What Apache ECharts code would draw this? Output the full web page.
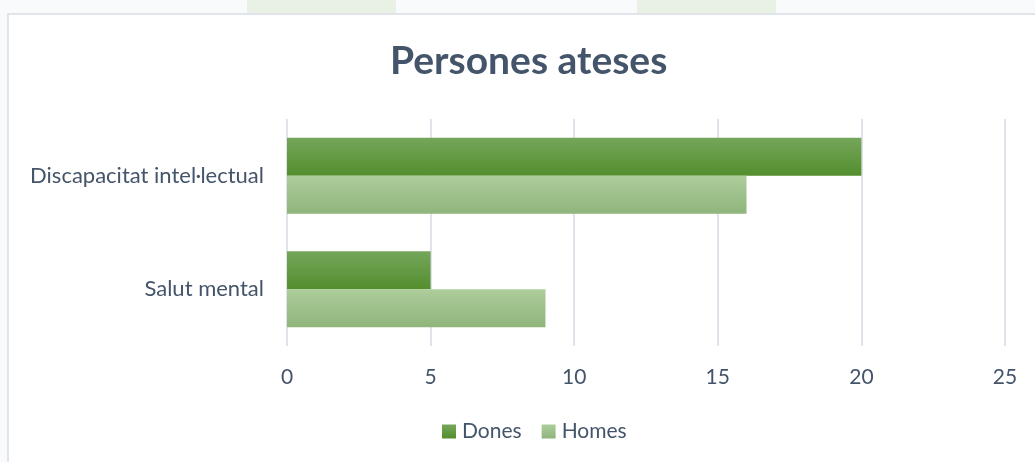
<!DOCTYPE html>
<html>
<head>
<meta charset="utf-8">
<script src="https://cdn.jsdelivr.net/npm/echarts@6/dist/echarts.min.js"></script>
<style>
  html, body { margin: 0; padding: 0; width: 1035px; height: 462px; overflow: hidden; background: #f9fafb; }
  #strip1 { position: absolute; left: 247px; top: 0; width: 149px; height: 13px; background: #e8f1e3; }
  #strip2 { position: absolute; left: 637px; top: 0; width: 139px; height: 13px; background: #e8f1e3; }
  #frame { position: absolute; left: 7px; top: 13px; width: 1040px; height: 460px; background: #ffffff; border-left: 2px solid #e1e5eb; border-top: 2px solid #e1e5eb; }
  #chart { position: absolute; left: 0; top: 0; width: 1035px; height: 462px; }
</style>
</head>
<body>
<div id="strip1"></div>
<div id="strip2"></div>
<div id="frame"></div>
<div id="chart"></div>
<script>
const titleText = 'Persones ateses';
const categories = ['Discapacitat intel·lectual', 'Salut mental'];
const seriesNames = ['Dones', 'Homes'];
const donesValues = [20, 5];
const homesValues = [16, 9];
const xTicks = [0, 5, 10, 15, 20, 25];

const textColor = '#44546a';
const font = 'Lato';

function grad(top, bottom) {
  return new echarts.graphic.LinearGradient(0, 0, 0, 1, [
    { offset: 0, color: top },
    { offset: 1, color: bottom }
  ]);
}

const chart = echarts.init(document.getElementById('chart'), null, { renderer: 'canvas' });
chart.setOption({
  backgroundColor: 'transparent',
  animation: false,
  title: {
    text: titleText,
    left: 385,
    top: 37,
    textStyle: { fontFamily: font, fontSize: 39, fontWeight: 'bold', color: textColor }
  },
  legend: {
    data: seriesNames,
    bottom: 15,
    left: 437,
    icon: 'rect',
    itemWidth: 14,
    itemHeight: 14,
    itemGap: 20,
    textStyle: { fontFamily: font, fontSize: 21, color: textColor, padding: [0, 0, 0, 1] }
  },
  grid: { left: 287, right: 30, top: 119, bottom: 116, containLabel: false },
  xAxis: {
    type: 'value',
    min: xTicks[0],
    max: xTicks[xTicks.length - 1],
    interval: xTicks[1] - xTicks[0],
    axisLine: { show: false },
    axisTick: { show: false },
    axisLabel: { fontFamily: font, fontSize: 21, color: textColor, margin: 21 },
    splitLine: { show: true, lineStyle: { color: '#dfe3ea', width: 2 } }
  },
  yAxis: {
    type: 'category',
    data: categories,
    inverse: true,
    axisLine: { show: false },
    axisTick: { show: false },
    axisLabel: { fontFamily: font, fontSize: 22, color: textColor, margin: 23 }
  },
  series: [
    {
      name: seriesNames[0],
      type: 'bar',
      data: donesValues,
      barGap: '0%',
      barCategoryGap: '33%',
      itemStyle: { color: grad('#75a65b', '#538e2d') }
    },
    {
      name: seriesNames[1],
      type: 'bar',
      data: homesValues,
      barGap: '0%',
      barCategoryGap: '33%',
      itemStyle: { color: grad('#adcd9b', '#8fb57b') }
    }
  ]
});
</script>
</body>
</html>
